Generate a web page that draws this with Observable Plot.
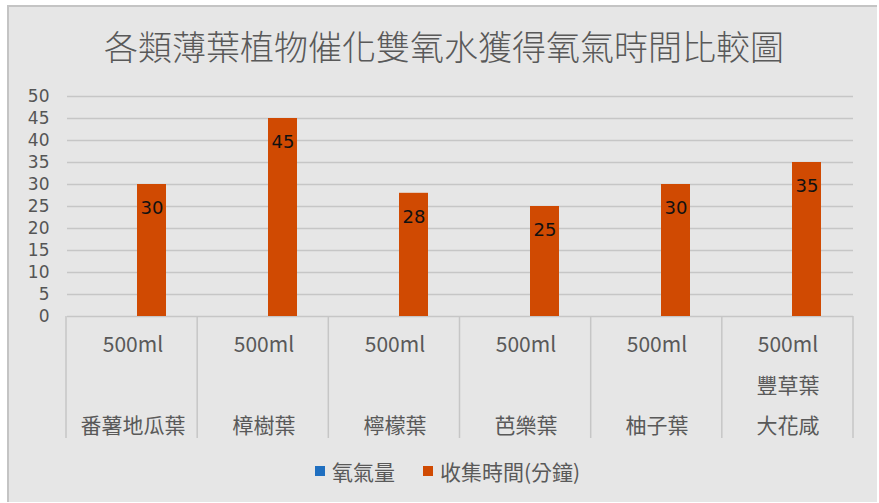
<!DOCTYPE html>
<html><head><meta charset="utf-8">
<script src="https://cdn.jsdelivr.net/npm/d3@7"></script>
<script src="https://cdn.jsdelivr.net/npm/@observablehq/plot@0.6"></script>
<style>
html,body{margin:0;padding:0;background:#fff;width:879px;height:503px;overflow:hidden;}
#frame{position:absolute;left:7px;top:5px;width:868px;height:495px;background:#e6e6e6;border-left:2px solid #c4c4c4;border-top:2px solid #c4c4c4;}
#title{position:absolute;left:0;top:28px;width:888px;text-align:center;font-family:"Noto Sans CJK TC";font-weight:300;font-size:34px;line-height:36px;color:#595959;}
#chart{position:absolute;left:0;top:80px;}
#legend{position:absolute;left:16px;width:863px;top:459px;height:24px;display:flex;justify-content:center;align-items:center;font-family:"Noto Sans CJK TC";font-size:21px;color:#595959;}
.item{display:flex;align-items:center;margin:0 14px;}
.sw{width:10px;height:10px;margin-right:7px;}
</style></head>
<body>
<div id="frame"></div>
<div id="title">各類薄葉植物催化雙氧水獲得氧氣時間比較圖</div>
<div id="chart"></div>
<div id="legend"></div>
<script>
const volumes = ["500ml","500ml","500ml","500ml","500ml","500ml"];
const names2 = ["","","","","","豐草葉"];
const names3 = ["番薯地瓜葉","樟樹葉","檸檬葉","芭樂葉","柚子葉","大花咸"];
const categories = names3.map((n,i)=>names2[i]+n);
const series = ["氧氣量","收集時間(分鐘)"];
const oxygen = [null,null,null,null,null,null];
const collectTime = [30,45,28,25,30,35];
const yTicks = [0,5,10,15,20,25,30,35,40,45,50];
const colors = ["#1f6fc0","#d04a02"];

const rows = categories.flatMap((c,i)=>[
  {cat:c, series:series[0], value:oxygen[i]},
  {cat:c, series:series[1], value:collectTime[i]}
]).filter(d=>d.value!=null);

const labelOf = c => { const i = categories.indexOf(c); return volumes[i]+"\n"+names2[i]+"\n"+names3[i]; };

const W = 879, H = 370, MB = 134;
const plot = Plot.plot({
  width: W, height: H,
  marginLeft: 66, marginRight: 26, marginTop: 16, marginBottom: MB,
  style: {background:"transparent", fontFamily:"'DejaVu Sans'", color:"#595959", overflow:"visible"},
  fx: {domain: categories, padding: 0, label: null, axis: null},
  x: {domain: series, paddingInner: 0.229, paddingOuter: 0.863, axis: null},
  y: {domain: [0,50], axis: null},
  color: {domain: series, range: colors},
  marks: [
    Plot.gridY(yTicks, {stroke:"#c6c6c6", strokeOpacity:1, strokeWidth:1.5}),
    Plot.axisY(yTicks, {tickSize:0, tickPadding:18, fontSize:17, fill:"#555555", label:null}),
    Plot.axisFx({anchor:"bottom", tickSize:0, tickPadding:6, fontSize:21, lineHeight:1.95, tickFormat: labelOf, label:null, fontFamily:"Noto Sans CJK TC", fill:"#595959"}),
    Plot.barY(rows, {fx:"cat", x:"series", y:"value", fill:"series"}),
    Plot.text(rows, {fx:"cat", x:"series", y:"value", text: d=>String(d.value), dy: 24, fontSize:18, fill:"#111111"})
  ]
});

// category separators of the multi-level axis, placed via the fx scale
const fxs = plot.scale("fx");
const band = d3.scaleBand().domain(fxs.domain).range(fxs.range).padding(0);
const bounds = [...categories.map(c=>band(c)), band(categories[categories.length-1]) + band.bandwidth()];
const y0 = H - MB;
d3.select(plot).append("g").selectAll("line").data(bounds).join("line")
  .attr("x1", d=>d).attr("x2", d=>d).attr("y1", y0).attr("y2", y0+122)
  .attr("stroke","#c6c6c6").attr("stroke-width",1.5);

document.getElementById("chart").appendChild(plot);

const legend = d3.select("#legend");
series.forEach((s,i)=>{
  const it = legend.append("div").attr("class","item");
  it.append("div").attr("class","sw").style("background", colors[i]);
  it.append("span").text(s);
});
</script>
</body></html>
